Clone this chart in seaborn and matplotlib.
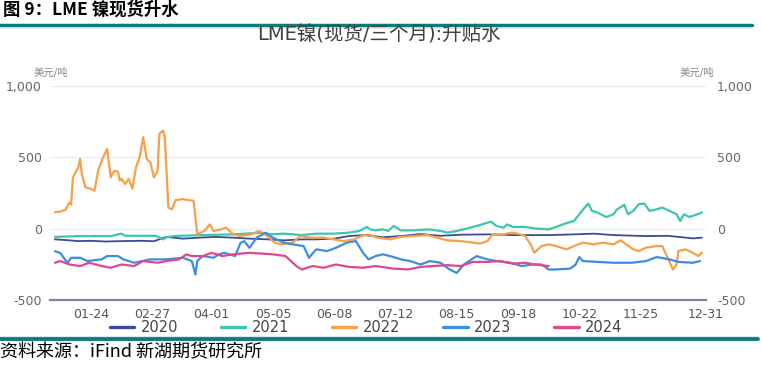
import pandas as pd
import numpy as np
import matplotlib
matplotlib.use("Agg")
import matplotlib.pyplot as plt
from matplotlib.ticker import FuncFormatter
from matplotlib.lines import Line2D
import seaborn as sns

# day-of-year positions and values (USD/t)
days_2020 = [4, 10, 17, 24, 32, 42, 52, 59, 63, 66, 75, 84, 93, 103, 112, 122, 131, 141, 149,
             159, 167, 176, 186, 196, 207, 218, 230, 245, 258, 278, 292, 303, 314, 332, 344,
             351, 358, 363]
vals_2020 = [-75, -80, -87, -85, -90, -87, -85, -88, -70, -58, -70, -63, -58, -63, -70, -75, -82,
             -75, -75, -70, -52, -45, -60, -52, -38, -50, -42, -40, -45, -45, -40, -35, -45, -52,
             -50, -59, -68, -63]

days_2021 = [4, 17, 35, 41, 43, 52, 60, 64, 66, 70, 85, 103, 119, 123, 131, 141, 149, 159, 167,
             173, 177, 179, 182, 186, 189, 192, 196, 203, 211, 218, 222, 227, 233, 238, 246, 249,
             253, 255, 258, 265, 270, 278, 281, 286, 292, 295, 298, 300, 302, 305, 310, 314, 316,
             320, 322, 325, 328, 331, 334, 338, 341, 345, 349, 351, 353, 356, 359, 363]
vals_2021 = [-58, -52, -52, -35, -50, -50, -50, -75, -60, -52, -45, -40, -28, -40, -35, -45, -35,
             -35, -28, -16, 12, -5, -12, -5, -16, 19, -12, -12, -5, -16, -28, -16, 2, 19, 49, 19,
             7, 30, 12, 12, 2, -5, 7, 31, 54, 101, 148, 176, 125, 113, 82, 101, 136, 167, 101,
             125, 172, 176, 125, 136, 148, 125, 101, 54, 101, 82, 94, 113]

days_2022 = [4, 7, 10, 12, 13, 14, 17, 18, 19, 21, 24, 26, 28, 30, 33, 35, 37, 39, 40, 41, 43,
             45, 47, 49, 51, 53, 55, 57, 59, 61, 62, 64, 65, 67, 69, 71, 75, 78, 81, 83, 85, 87,
             90, 92, 96, 99, 103, 107, 113, 117, 119, 123, 126, 130, 136, 140, 146, 153, 159,
             164, 170, 174, 178, 183, 190, 196, 203, 211, 216, 222, 229, 236, 240, 244, 247, 253,
             257, 261, 265, 268, 270, 274, 278, 282, 288, 292, 297, 303, 308, 314, 318, 321, 325,
             328, 332, 338, 341, 344, 347, 349, 350, 354, 358, 361, 363]
vals_2022 = [115, 120, 133, 183, 170, 359, 430, 489, 380, 289, 280, 265, 406, 477, 559, 359, 406,
             400, 338, 350, 313, 350, 280, 429, 500, 641, 488, 465, 359, 406, 665, 688, 641, 148,
             136, 200, 207, 200, 195, -40, -28, -16, 30, -16, -5, 7, -40, -52, -40, -16, -28, -63,
             -98, -110, -98, -52, -63, -63, -75, -87, -75, -52, -40, -63, -75, -57, -52, -45, -63,
             -82, -87, -98, -105, -87, -40, -40, -28, -35, -52, -110, -169, -122, -110, -122,
             -145, -122, -98, -110, -98, -110, -82, -110, -145, -157, -133, -122, -122, -204,
             -286, -251, -157, -145, -169, -192, -169]

days_2023 = [4, 7, 11, 13, 18, 22, 30, 33, 39, 42, 48, 57, 66, 75, 80, 82, 83, 86, 92, 95, 98,
             104, 107, 109, 112, 116, 121, 125, 131, 136, 142, 145, 149, 155, 160, 166, 171, 175,
             178, 182, 186, 190, 196, 201, 207, 212, 218, 223, 227, 231, 238, 244, 249, 257, 263,
             269, 274, 278, 282, 290, 293, 295, 297, 305, 314, 324, 332, 338, 345, 350, 358, 362]
vals_2023 = [-157, -171, -239, -204, -204, -227, -215, -192, -192, -215, -239, -215, -215, -204,
             -227, -321, -227, -192, -204, -180, -169, -192, -100, -87, -134, -63, -28, -63, -98,
             -110, -122, -204, -145, -157, -134, -98, -87, -169, -215, -192, -180, -192, -215,
             -227, -251, -227, -239, -286, -310, -251, -192, -215, -227, -239, -262, -251, -251,
             -286, -286, -280, -251, -199, -227, -233, -239, -239, -227, -199, -215, -233, -239,
             -227]

days_2024 = [4, 7, 12, 18, 23, 30, 35, 41, 48, 53, 61, 66, 73, 77, 80, 86, 91, 97, 103, 112, 118,
             125, 132, 138, 141, 147, 153, 160, 167, 175, 182, 192, 200, 207, 214, 222, 229, 236,
             244, 251, 258, 265, 270, 274, 278]
vals_2024 = [-239, -227, -251, -262, -239, -262, -274, -251, -262, -227, -239, -227, -215, -180,
             -192, -192, -169, -192, -180, -169, -174, -180, -192, -262, -286, -262, -274, -251,
             -268, -274, -262, -280, -286, -268, -262, -256, -262, -233, -233, -227, -245, -239,
             -251, -256, -262]

years = ["2020", "2021", "2022", "2023", "2024"]
colors = ["#3d4a94", "#3cc5b0", "#f7a047", "#3b8ee2", "#e2468f"]
tick_days = [24, 58, 91, 125, 159, 193, 227, 261, 295, 329, 365]
tick_labels = ["01-24", "02-27", "04-01", "05-05", "06-08", "07-12", "08-15", "09-18",
               "10-22", "11-25", "12-31"]
y_ticks = [-500, 0, 500, 1000]

series = {
    "2020": (days_2020, vals_2020),
    "2021": (days_2021, vals_2021),
    "2022": (days_2022, vals_2022),
    "2023": (days_2023, vals_2023),
    "2024": (days_2024, vals_2024),
}
df = pd.concat([pd.DataFrame({"day": d, "value": v, "year": y}) for y, (d, v) in series.items()],
               ignore_index=True)

sns.set_theme(style="white")
plt.rcParams["font.family"] = ["DejaVu Sans", "Noto Sans CJK SC"]

fig = plt.figure(figsize=(7.62, 3.67), dpi=100)
ax = fig.add_axes([50 / 762, 1 - 300 / 367, 656 / 762, 214 / 367])

sns.lineplot(data=df, x="day", y="value", hue="year", palette=dict(zip(years, colors)),
             estimator=None, linewidth=1.6, legend=False, ax=ax)
for ln, y in zip(ax.lines, years):
    if y == "2020":
        ln.set_linewidth(1.3)

ax.set_xlim(1.3, 365.3)
ax.set_ylim(-500, 1000)
ax.set_xticks(tick_days)
ax.set_xticklabels(tick_labels)
ax.set_yticks(y_ticks)
ax.yaxis.set_major_formatter(FuncFormatter(lambda v, p: f"{int(v):,}"))
ax.set_xlabel("")
ax.set_ylabel("")
ax.tick_params(axis="x", length=0, pad=6, labelsize=9, labelcolor="#555555")
ax.tick_params(axis="y", length=0, pad=6, labelsize=9, labelcolor="#666666")
for y in [0, 500, 1000]:
    ax.axhline(y, color="#eceef5", lw=1, zorder=0)
for s in ["top", "left", "right"]:
    ax.spines[s].set_visible(False)
ax.spines["bottom"].set_color("#7f82b2")
ax.spines["bottom"].set_linewidth(1.6)

ax2 = ax.twinx()
ax2.set_ylim(-500, 1000)
ax2.set_yticks(y_ticks)
ax2.yaxis.set_major_formatter(FuncFormatter(lambda v, p: f"{int(v):,}"))
ax2.tick_params(axis="y", length=0, pad=8, labelsize=9, labelcolor="#666666")
for s in ax2.spines.values():
    s.set_visible(False)
ax2.grid(False)

# units
fig.text(51 / 762, 1 - 73 / 367, "美元/吨", ha="center", va="center", fontsize=7.5, color="#888888")
fig.text(697 / 762, 1 - 73 / 367, "美元/吨", ha="center", va="center", fontsize=7.5, color="#888888")

# chart title
fig.text(379 / 762, 1 - 35 / 367, "LME镍(现货/三个月):升贴水", ha="center", va="center",
         fontsize=14, color="#404040")

# header and footer
fig.text(3 / 762, 1 - 10 / 367, "图 9：LME 镍现货升水", ha="left", va="center", fontsize=12.5,
         fontweight="bold", color="black", family=["Noto Sans CJK SC", "DejaVu Sans"])
fig.add_artist(Line2D([0, 752 / 762], [1 - 24.5 / 367] * 2, color="#0a7d78", lw=2.5))
fig.add_artist(Line2D([0, 752 / 762], [1 - 27.5 / 367] * 2, color="#dfe9e8", lw=0.8))
fig.add_artist(Line2D([0, 758 / 762], [1 - 338.5 / 367] * 2, color="#0a7d78", lw=2.8))
fig.add_artist(Line2D([0, 758 / 762], [1 - 335.5 / 367] * 2, color="#dfe9e8", lw=0.8))
fig.text(0, 1 - 352 / 367, "资料来源：iFind 新湖期货研究所", ha="left", va="center", fontsize=13,
         color="black", family=["Noto Sans CJK SC", "DejaVu Sans"])

handles = [Line2D([], [], color=c, lw=2.4) for c in colors]
fig.legend(handles, years, loc="center", bbox_to_anchor=(366 / 762, 1 - 328 / 367), ncol=5,
           frameon=False, fontsize=10.5, handlelength=1.7, handletextpad=0.45,
           columnspacing=2.9, labelcolor="#444444")

fig.savefig("out.png", dpi=100, facecolor="white")
